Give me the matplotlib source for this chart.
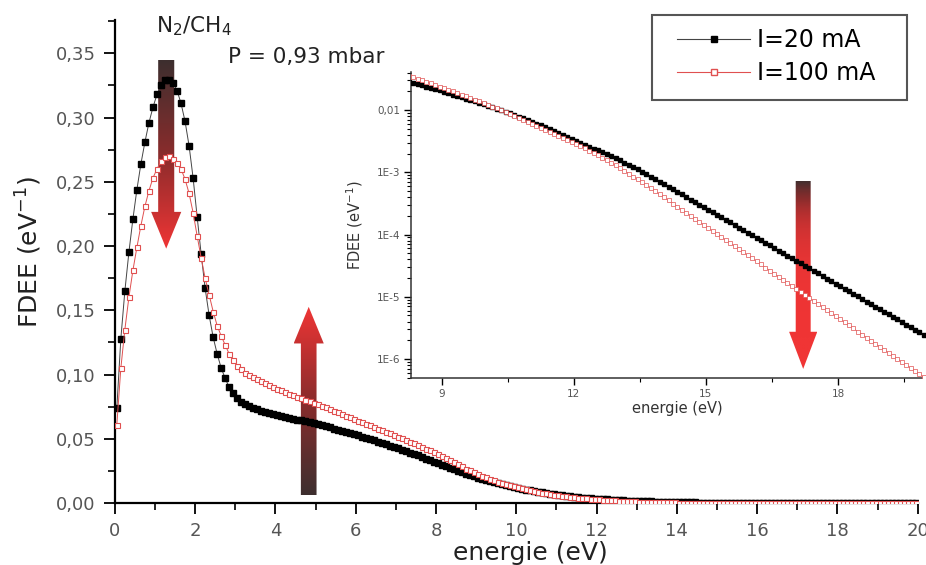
import numpy as np
import matplotlib
matplotlib.use('Agg')
import matplotlib.pyplot as plt
from matplotlib.patches import Polygon, Rectangle
from matplotlib.colors import LinearSegmentedColormap
from matplotlib.lines import Line2D
from matplotlib.ticker import MultipleLocator, FuncFormatter, LogLocator, NullFormatter

# energy grid of the measured points (eV), one point every 0.1 eV
energy = np.round(np.arange(0.05, 20.0, 0.1), 2)

# I = 20 mA : values 0.05 .. 8.25 eV read on the linear axis
fdee_20_lin = [
    0.074, 0.128, 0.165, 0.195, 0.221, 0.244, 0.264, 0.281, 0.296, 0.308,
    0.318, 0.325, 0.329, 0.329, 0.327, 0.321, 0.311, 0.297, 0.278, 0.253,
    0.223, 0.194, 0.167, 0.146, 0.129, 0.116, 0.105, 0.097, 0.090, 0.0855,
    0.0815, 0.0790, 0.0770, 0.0753, 0.0740, 0.0728, 0.0717, 0.0708, 0.0700, 0.0692,
    0.0685, 0.0678, 0.0671, 0.0664, 0.0657, 0.0650, 0.0643, 0.0636, 0.0628, 0.0620,
    0.0612, 0.0604, 0.0596, 0.0588, 0.0580, 0.0571, 0.0562, 0.0553, 0.0544, 0.0535,
    0.0526, 0.0517, 0.0508, 0.0498, 0.0488, 0.0478, 0.0468, 0.0458, 0.0447, 0.0436,
    0.0425, 0.0414, 0.0403, 0.0392, 0.0381, 0.0370, 0.0358, 0.0346, 0.0334, 0.0322,
    0.0310, 0.0298, 0.0286]
# I = 20 mA : 8.35 .. 19.95 eV read on the log inset (log10 of FDEE)
fdee_20_log = [
    -1.560, -1.580, -1.600, -1.621, -1.642, -1.663, -1.684, -1.705, -1.727, -1.749,
    -1.771, -1.793, -1.815, -1.838, -1.861, -1.884, -1.907,
    -1.931, -1.955, -1.979, -2.004, -2.029, -2.054, -2.079, -2.105, -2.131, -2.158,
    -2.186, -2.215, -2.245, -2.276, -2.307, -2.338, -2.369, -2.400, -2.431, -2.462,
    -2.493, -2.524, -2.555, -2.586, -2.617, -2.648, -2.680, -2.712, -2.744, -2.776,
    -2.809, -2.843, -2.878, -2.914, -2.951, -2.989, -3.028, -3.068, -3.109, -3.150,
    -3.191, -3.232, -3.273, -3.314, -3.355, -3.396, -3.437, -3.478, -3.519, -3.560,
    -3.601, -3.642, -3.683, -3.724, -3.765, -3.806, -3.847, -3.888, -3.929, -3.970,
    -4.011, -4.052, -4.093, -4.134, -4.175, -4.216, -4.257, -4.298, -4.339, -4.380,
    -4.421, -4.462, -4.503, -4.544, -4.585, -4.626, -4.667, -4.708, -4.749, -4.790,
    -4.831, -4.872, -4.913, -4.954, -4.995, -5.036, -5.077, -5.118, -5.159, -5.200,
    -5.241, -5.282, -5.323, -5.364, -5.405, -5.446, -5.487, -5.528, -5.569, -5.610]

# I = 100 mA
fdee_100_lin = [
    0.061, 0.105, 0.135, 0.160, 0.181, 0.199, 0.216, 0.231, 0.243, 0.253,
    0.260, 0.266, 0.269, 0.270, 0.268, 0.265, 0.260, 0.252, 0.241, 0.226,
    0.208, 0.191, 0.175, 0.162, 0.149, 0.138, 0.130, 0.123, 0.116, 0.111,
    0.107, 0.104, 0.1015, 0.0995, 0.0978, 0.0962, 0.0947, 0.0932, 0.0917, 0.0902,
    0.0889, 0.0876, 0.0864, 0.0852, 0.0840, 0.0828, 0.0816, 0.0804, 0.0792, 0.0780,
    0.0768, 0.0756, 0.0744, 0.0732, 0.0720, 0.0707, 0.0694, 0.0681, 0.0668, 0.0655,
    0.0642, 0.0630, 0.0617, 0.0604, 0.0592, 0.0580, 0.0567, 0.0555, 0.0542, 0.0529,
    0.0516, 0.0503, 0.0490, 0.0477, 0.0464, 0.0450, 0.0437, 0.0424, 0.0410, 0.0396,
    0.0381, 0.0366, 0.0350]
fdee_100_log = [
    -1.475, -1.498, -1.522, -1.546, -1.571, -1.596, -1.621, -1.647, -1.673, -1.699,
    -1.725, -1.752, -1.779, -1.806, -1.832, -1.858, -1.884,
    -1.915, -1.944, -1.973, -2.003, -2.033, -2.063, -2.093, -2.124, -2.155, -2.186,
    -2.217, -2.249, -2.281, -2.313, -2.346, -2.379, -2.412, -2.446, -2.480, -2.514,
    -2.547, -2.581, -2.616, -2.652, -2.689, -2.727, -2.766, -2.806, -2.847, -2.889,
    -2.932, -2.976, -3.021, -3.067, -3.114, -3.162, -3.210, -3.258, -3.306, -3.354,
    -3.403, -3.452, -3.501, -3.550, -3.599, -3.648, -3.697, -3.746, -3.795, -3.844,
    -3.893, -3.942, -3.991, -4.040, -4.089, -4.138, -4.187, -4.236, -4.285, -4.334,
    -4.383, -4.432, -4.481, -4.530, -4.579, -4.628, -4.677, -4.726, -4.775, -4.824,
    -4.873, -4.922, -4.971, -5.020, -5.069, -5.118, -5.167, -5.216, -5.265, -5.314,
    -5.363, -5.412, -5.461, -5.510, -5.559, -5.608, -5.657, -5.706, -5.755, -5.804,
    -5.853, -5.902, -5.951, -6.000, -6.049, -6.098, -6.147, -6.196, -6.245, -6.294]

fdee_20 = np.concatenate([fdee_20_lin, 10 ** np.array(fdee_20_log)])
fdee_100 = np.concatenate([fdee_100_lin, 10 ** np.array(fdee_100_log)])

RED = '#e05050'
C_DARK = '#3d2f2f'
C_RED = '#f03535'


def grad_arrow(ax, xc, y_start, y_head, y_tip, shaft_w, head_w):
    """vertical arrow going from y_start to y_tip, dark -> red"""
    verts = [(xc - shaft_w / 2, y_start), (xc + shaft_w / 2, y_start),
             (xc + shaft_w / 2, y_head), (xc + head_w / 2, y_head),
             (xc, y_tip), (xc - head_w / 2, y_head), (xc - shaft_w / 2, y_head)]
    poly = Polygon(verts, closed=True, facecolor='none', edgecolor='none')
    ax.add_patch(poly)
    cmap = LinearSegmentedColormap.from_list('arr', [C_DARK, '#8a2c2c', C_RED])
    grad = np.linspace(0, 1, 256).reshape(-1, 1)
    im = ax.imshow(grad, extent=[xc - head_w / 2, xc + head_w / 2, y_start, y_tip],
                   origin='lower', cmap=cmap, aspect='auto', zorder=1, interpolation='bilinear')
    im.set_clip_path(poly)


fig = plt.figure(figsize=(9.26, 5.65), dpi=100)
ax = fig.add_axes([0.124, 0.1097, 0.867, 0.855])

ax.plot(energy, fdee_20, color='#444444', lw=0.7, marker='s', ms=3.8,
        mfc='black', mec='black', zorder=3)
ax.plot(energy, fdee_100, color=RED, lw=0.7, marker='s', ms=3.6,
        mfc='white', mec=RED, mew=0.8, zorder=4)

grad_arrow(ax, 1.28, 0.345, 0.2266, 0.198, 0.40, 0.75)
grad_arrow(ax, 4.83, 0.0062, 0.1242, 0.1527, 0.39, 0.75)

ax.set_xlim(0, 20)
ax.set_ylim(0, 0.376)
for s in ['top', 'right']:
    ax.spines[s].set_visible(False)
for s in ['left', 'bottom']:
    ax.spines[s].set_linewidth(1.6)
ax.xaxis.set_major_locator(MultipleLocator(2))
ax.xaxis.set_minor_locator(MultipleLocator(1))
ax.yaxis.set_major_locator(MultipleLocator(0.05))
ax.yaxis.set_minor_locator(MultipleLocator(0.025))
ax.yaxis.set_major_formatter(FuncFormatter(lambda v, p: ('%.2f' % v).replace('.', ',')))
ax.tick_params(which='major', length=8, width=1.3, labelsize=13, labelcolor='#555555', pad=6)
ax.tick_params(which='minor', length=5, width=1.2)
ax.set_xlabel('energie (eV)', fontsize=18, color='#222222')
ax.set_ylabel('FDEE (eV$^{-1}$)', fontsize=18, color='#222222')
ax.xaxis.set_label_coords(0.517, -0.079)
ax.yaxis.set_label_coords(-0.088, 0.52)

fig.text(156 / 926, 1 - 32 / 565, 'N$_2$/CH$_4$', fontsize=15.5, color='#222222', va='baseline')
fig.text(228 / 926, 1 - 63 / 565, 'P = 0,93 mbar', fontsize=15.5, color='#222222', va='baseline')

# legend: entries without frame, frame drawn as a box in figure pixels
handles = [Line2D([], [], color='#444444', lw=0.8, marker='s', ms=5, mfc='black', mec='black'),
           Line2D([], [], color=RED, lw=0.8, marker='s', ms=5, mfc='white', mec=RED)]
leg = ax.legend(handles, ['I=20 mA', 'I=100 mA'], loc='upper left',
                bbox_to_anchor=(677 / 926, 1 - 28 / 565), bbox_transform=fig.transFigure,
                fontsize=17, numpoints=1, handlelength=3.1, handletextpad=0.3,
                labelspacing=0.4, borderpad=0, borderaxespad=0, frameon=False)
leg.set_zorder(10)
fig.patches.append(Rectangle((652 / 926, 1 - 100 / 565), 255 / 926, 85 / 565,
                             transform=fig.transFigure, fill=False,
                             edgecolor='#555555', lw=1.5, zorder=9))

# inset, log scale
axi = fig.add_axes([411 / 926, 1 - 378 / 565, (926 - 411) / 926, (378 - 72) / 565])
axi.patch.set_alpha(0)
axi.plot(energy, fdee_20, color='black', lw=0.7, marker='s', ms=2.6,
         mfc='black', mec='black', zorder=3)
axi.plot(energy, fdee_100, color=RED, lw=0.5, marker='s', ms=2.2,
         mfc='white', mec=RED, mew=0.5, zorder=4)
axi.set_yscale('log')
grad_arrow(axi, 17.21, 10 ** -3.136, 10 ** -5.563, 10 ** -6.16, 0.34, 0.64)
axi.set_xlim(8.3, 20.0)
axi.set_ylim(10 ** -6.306, 10 ** -1.387)
for s in ['top', 'right']:
    axi.spines[s].set_visible(False)
for s in ['left', 'bottom']:
    axi.spines[s].set_linewidth(1.1)
    axi.spines[s].set_color('#333333')
axi.xaxis.set_major_locator(MultipleLocator(3))
axi.xaxis.set_minor_locator(MultipleLocator(1.5))
axi.yaxis.set_major_locator(LogLocator(base=10))
axi.yaxis.set_minor_locator(LogLocator(base=10, subs=np.arange(2, 10)))
axi.yaxis.set_minor_formatter(NullFormatter())


def inset_fmt(v, p):
    e = int(round(np.log10(v)))
    return '0,01' if e == -2 else '1E%d' % e


axi.yaxis.set_major_formatter(FuncFormatter(inset_fmt))
axi.tick_params(which='major', length=5, width=1, labelsize=7.5, labelcolor='#555555', pad=3)
axi.tick_params(which='minor', length=3, width=0.8)
axi.set_xlabel('energie (eV)', fontsize=10.5, color='#333333')
axi.set_ylabel('FDEE (eV$^{-1}$)', fontsize=10.5, color='#333333')
axi.xaxis.set_label_coords(0.518, -0.075)
axi.yaxis.set_label_coords(-0.089, 0.5)

fig.savefig('out.png', dpi=100)
